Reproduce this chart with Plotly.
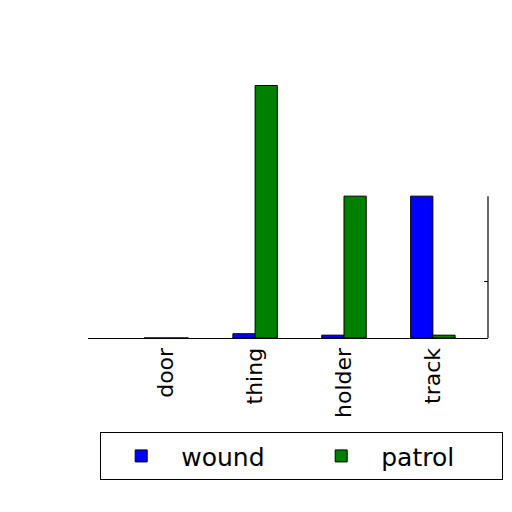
import plotly.graph_objects as go

categories = ['door', 'thing', 'holder', 'track']
wound = [0, 0.15, 0.1, 5]
patrol = [0, 8.9, 5, 0.1]

fig = go.Figure()
fig.add_trace(go.Bar(x=categories, y=wound, name='wound',
                     marker=dict(color='#0000ff', line=dict(color='black', width=1))))
fig.add_trace(go.Bar(x=categories, y=patrol, name='patrol',
                     marker=dict(color='#008000', line=dict(color='black', width=1))))

# right spine only goes up to 5 in the original
fig.add_shape(type='line', xref='paper', yref='y', x0=1, x1=1, y0=0, y1=5,
              line=dict(color='black', width=1.2))

fig.update_layout(
    width=512, height=512,
    margin=dict(l=80, r=32, t=69, b=182, autoexpand=False),
    paper_bgcolor='white', plot_bgcolor='white',
    barmode='group', bargap=0.5, bargroupgap=0,
    font=dict(family='DejaVu Sans', color='black'),
    showlegend=True,
    legend=dict(orientation='h', x=0.03, y=-0.36, xanchor='left', yanchor='top',
                bordercolor='black', borderwidth=1.2, font=dict(size=25),
                itemwidth=70, entrywidth=115, entrywidthmode='pixels'),
)
fig.update_xaxes(range=[-0.88, 3.62], showline=True, linecolor='black', linewidth=1.2,
                 ticks='', tickangle=-90, tickfont=dict(size=22), showgrid=False)
fig.update_yaxes(range=[0, 9.2], side='right', showline=False, showgrid=False,
                 zeroline=False, tickvals=[2], ticks='inside', ticklen=4,
                 tickcolor='black', showticklabels=False)

fig.write_html('out.html')
